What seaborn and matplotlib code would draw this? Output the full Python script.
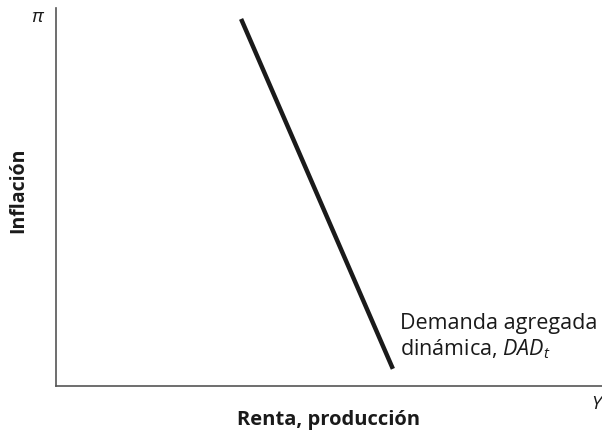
import matplotlib
matplotlib.use('Agg')
import matplotlib.pyplot as plt
import pandas as pd
import seaborn as sns

# Curva de demanda agregada dinámica
renta = [3.39, 6.17]
inflacion = [9.71, 0.45]

sns.set_style('white')
plt.rcParams['font.family'] = ['Open Sans', 'DejaVu Sans']
plt.rcParams['mathtext.fontset'] = 'custom'
plt.rcParams['mathtext.it'] = 'Open Sans:italic'
plt.rcParams['mathtext.rm'] = 'Open Sans'

df = pd.DataFrame({'renta': renta, 'inflacion': inflacion})

fig = plt.figure(figsize=(6.02, 4.44), dpi=100)
ax = fig.add_axes([0.093, 0.131, 0.907, 0.851])

sns.lineplot(data=df, x='renta', y='inflacion', ax=ax, color='#1a1a1a',
             linewidth=3.2, solid_capstyle='butt')

ax.set_xlim(0, 10)
ax.set_ylim(0, 10)
ax.set_xticks([])
ax.set_yticks([])
ax.set_xlabel('')
ax.set_ylabel('')

for side in ['top', 'right']:
    ax.spines[side].set_visible(False)
for side in ['left', 'bottom']:
    ax.spines[side].set_color('#555555')
    ax.spines[side].set_linewidth(1.2)

# Etiquetas de los ejes
fig.text(0.546, 0.054, 'Renta, producción', ha='center', va='center',
         fontsize=14.5, fontweight='bold', color='#1a1a1a')
fig.text(0.03, 0.572, 'Inflación', ha='center', va='center', rotation=90,
         fontsize=14, fontweight='bold', color='#1a1a1a')
fig.text(0.062, 0.962, 'π', ha='center', va='center', fontsize=14,
         style='italic', color='#1a1a1a')
fig.text(0.99, 0.09, 'Y', ha='center', va='center', fontsize=14,
         style='italic', color='#1a1a1a')

ax.text(6.3, 1.3, 'Demanda agregada\ndinámica, $DAD_t$', ha='left', va='center',
        fontsize=15.5, color='#1a1a1a', linespacing=1.2)

fig.savefig('out.png', dpi=100)
